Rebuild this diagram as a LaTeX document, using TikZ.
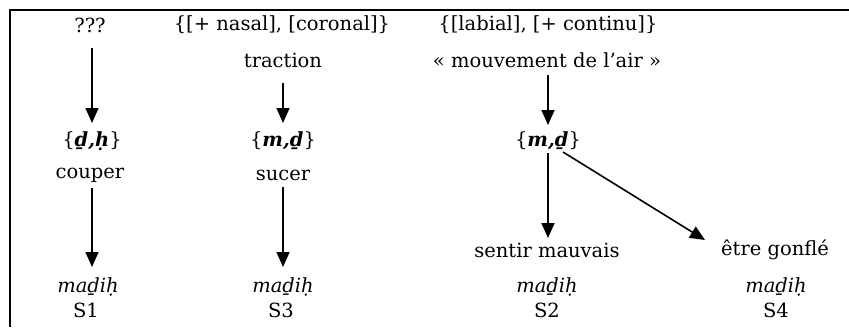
\documentclass[tikz,border=0pt]{standalone}
\usepackage{fontspec}
\setmainfont{DejaVu Serif}
\usetikzlibrary{arrows.meta}
\tikzset{
  txt/.style={inner sep=0pt, font=\fontsize{19.5}{22}\selectfont},
  arr/.style={line width=1.6pt, -{Triangle[length=15pt,width=13pt]}},
  frame/.style={line width=2pt}
}
\begin{document}
\begin{tikzpicture}[x=1pt,y=1pt]
\useasboundingbox (0,0) rectangle (849,-327);
\coordinate (tl) at (10,-10);
\coordinate (tr) at (849,-10);
\coordinate (bl) at (10,-327);
\draw[frame] (tr) -- (tl) -- (bl);
% top rows
\node[txt] (q)  at (90,-25)  {???};
\node[txt] (nc) at (282,-25) {\{[+ nasal], [coronal]\}};
\node[txt] (trc) at (283,-60) {traction};
\node[txt] (lc) at (548,-25) {\{[labial], [+ continu]\}};
\node[txt] (ma) at (547,-60) {« mouvement de l’air »};
% root nodes
\node[txt] (dh)  at (92,-141)  {\{\textbf{\textit{ḏ,ḥ}}\}};
\node[txt] (md1) at (283,-141) {\{\textbf{\textit{m,ḏ}}\}};
\node[txt] (md2) at (548,-141) {\{\textbf{\textit{m,ḏ}}\}};
% senses
\node[txt] (cp) at (90,-175)  {couper};
\node[txt] (sc) at (283,-175) {sucer};
\node[txt] (sm) at (547,-250) {sentir mauvais};
\node[txt] (eg) at (775,-250) {être gonflé};
% words
\node[txt] (w1) at (88,-287)  {\textit{maḏiḥ}};
\node[txt] (w2) at (283,-287) {\textit{maḏiḥ}};
\node[txt] (w3) at (547,-287) {\textit{maḏiḥ}};
\node[txt] (w4) at (776,-287) {\textit{maḏiḥ}};
\node[txt] (s1) at (86,-310)  {S1};
\node[txt] (s3) at (281,-310) {S3};
\node[txt] (s2) at (547,-310) {S2};
\node[txt] (s4) at (776,-310) {S4};
% arrows
\draw[arr] ([yshift=-23pt]dh |- q) -- ([yshift=18pt]dh.center);
\draw[arr] ([yshift=-23pt]md1 |- trc) -- ([yshift=18pt]md1.center);
\draw[arr] ([yshift=-15pt]md2 |- ma) -- ([yshift=16pt]md2.center);
\draw[arr] ([yshift=-13pt]dh |- cp) -- ([yshift=20pt]dh |- w1);
\draw[arr] ([yshift=-12pt]md1 |- sc) -- ([yshift=20pt]md1 |- w2);
\draw[arr] ([yshift=-12pt]md2.center) -- ([yshift=12pt]md2 |- sm);
\draw[arr] ([xshift=15pt,yshift=-11pt]md2.center) -- ([xshift=-70pt,yshift=10pt]eg.center);
\end{tikzpicture}
\end{document}
